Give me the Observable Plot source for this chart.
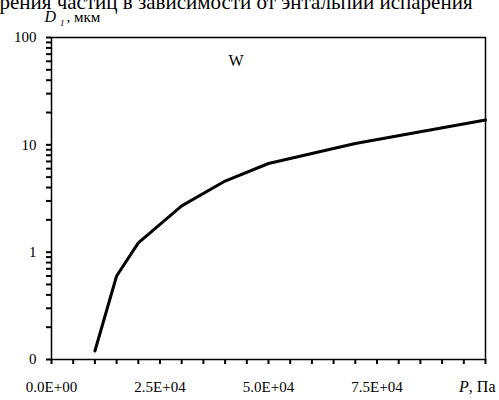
<!DOCTYPE html>
<html><head><meta charset="utf-8">
<script src="https://cdn.jsdelivr.net/npm/d3@7"></script>
<script src="https://cdn.jsdelivr.net/npm/@observablehq/plot@0.6"></script>
<style>body{margin:0;background:#fff} svg{display:block}</style>
</head><body><div id="chart"></div>
<script>
const pressure = [10000, 15000, 20000, 30000, 40000, 50000, 70000, 100000];
const diameter = [0.12, 0.6, 1.22, 2.7, 4.6, 6.7, 10.3, 17];
const xTickValues = d3.range(0, 100001, 5000);
const xTickLabels = {0: "0.0E+00", 25000: "2.5E+04", 50000: "5.0E+04", 75000: "7.5E+04"};
const yDecades = [0.1, 1, 10];
const yMultipliers = [1, 2, 3, 4, 5, 6, 7, 8, 9];
const yTickLabels = {"0.1": "0", "1": "1", "10": "10", "100": "100"};
const titleText = "рения частиц в зависимости от энтальпии испарения";
const yLabelParts = ["D", "1", ", мкм"];
const xLabelParts = ["P", ", Па"];
const annX = [42500], annY = [60], annText = ["W"];

const yTickValues = yDecades.flatMap(d => yMultipliers.map(m => +(d * m).toPrecision(3))).concat([100]);
const data = pressure.map((p, i) => ({p, d: diameter[i]}));
const serif = "'Liberation Serif', 'Times New Roman', serif";
const yLabelText = yLabelParts.join("");
const xLabelText = xLabelParts.join("");

const chart = Plot.plot({
  width: 499, height: 400,
  marginLeft: 51, marginRight: 14, marginTop: 37, marginBottom: 41,
  style: {fontFamily: serif, fontSize: "15px", color: "#000", background: "#fff"},
  x: {type: "linear", domain: [0, 100000]},
  y: {type: "log", domain: [0.1, 100]},
  marks: [
    Plot.axisX({ticks: xTickValues, tickSize: 5, tickPadding: 17, label: null,
      tickFormat: v => xTickLabels[v] ?? "", stroke: "#000", strokeWidth: 2, fontSize: 15}),
    Plot.axisY({ticks: yTickValues, tickSize: 5, tickPadding: 10, label: null,
      tickFormat: v => yTickLabels[String(v)] ?? "", stroke: "#000", strokeWidth: 2, fontSize: 15}),
    Plot.frame({stroke: "#000", strokeWidth: 1.5}),
    Plot.line(data, {x: "p", y: "d", stroke: "#000", strokeWidth: 3}),
    Plot.text(annText, {x: annX, y: annY, text: d => d, fontSize: 16}),
    Plot.text([titleText], {frameAnchor: "top-left", textAnchor: "start", lineAnchor: "bottom",
      dx: -52, dy: -29, fontSize: 21, text: d => d}),
    Plot.text([yLabelText], {frameAnchor: "top-left", textAnchor: "start", lineAnchor: "bottom",
      dx: -7, dy: -16, fontSize: 16, text: d => d}),
    Plot.text([xLabelText], {frameAnchor: "bottom-right", textAnchor: "end", lineAnchor: "bottom",
      dx: 10, dy: 32, fontSize: 16, text: d => d})
  ]
});

// rich text (italic symbol, subscript) for the axis labels
d3.select(chart).selectAll("text").each(function () {
  const t = d3.select(this);
  if (this.textContent === yLabelText) {
    t.text(null);
    t.append("tspan").attr("font-style", "italic").text(yLabelParts[0]);
    t.append("tspan").attr("font-style", "italic").attr("font-size", 9).attr("dx", 4).attr("dy", 4).text(yLabelParts[1]);
    t.append("tspan").attr("font-size", 15).attr("dx", 2).attr("dy", -4).text(yLabelParts[2]);
  } else if (this.textContent === xLabelText) {
    t.text(null);
    t.append("tspan").attr("font-style", "italic").text(xLabelParts[0]);
    t.append("tspan").text(xLabelParts[1]);
  }
});
document.getElementById("chart").appendChild(chart);
</script></body></html>
